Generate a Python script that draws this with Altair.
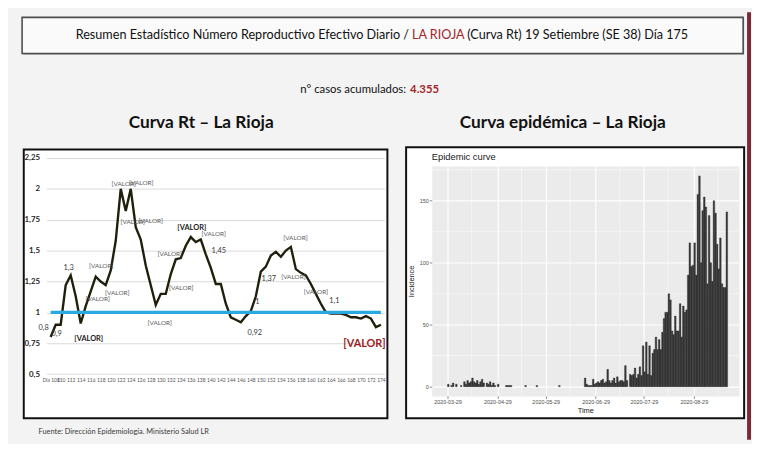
import altair as alt
import pandas as pd

# ---------------- data: Curva Rt ----------------
RT_DAYS = list(range(108, 175))
RT_VALUES = [0.80, 0.90, 0.90, 1.22, 1.30, 1.13, 0.91, 1.05, 1.17, 1.29,
             1.25, 1.22, 1.34, 1.58, 2.00, 1.82, 2.00, 1.69, 1.59, 1.38,
             1.22, 1.06, 1.15, 1.15, 1.31, 1.43, 1.44, 1.54, 1.61, 1.57,
             1.59, 1.47, 1.36, 1.23, 1.23, 1.07, 0.96, 0.94, 0.92, 0.97,
             1.01, 1.13, 1.33, 1.37, 1.46, 1.49, 1.45, 1.50, 1.53, 1.35,
             1.32, 1.30, 1.23, 1.15, 1.07, 1.00, 0.99, 0.99, 0.99, 0.98,
             0.96, 0.96, 0.95, 0.97, 0.95, 0.88, 0.90]
RT_REF = 1.0
RT_Y_TICKS = [0.5, 0.75, 1.0, 1.25, 1.5, 1.75, 2.0, 2.25]
RT_X_TICKS = list(range(108, 175, 2))
RT_X_DOMAIN = [107.15, 174.7]
RT_Y_DOMAIN = [0.5, 2.25]

NUM_LABEL_TEXT = ["0,8", "0,9", "1,3", "1,45", "0,92", "1", "1,37", "1,1"]
NUM_LABEL_DAY = [106.6, 109.2, 111.6, 141.6, 148.8, 149.3, 151.6, 164.7]
NUM_LABEL_VAL = [0.873, 0.827, 1.356, 1.497, 0.833, 1.085, 1.272, 1.093]

VALOR_TEXT = "[VALOR]"
VALOR_DAY = [117.4, 118.1, 121.3, 122.6, 126.1, 124.4, 128.0, 140.6,
             131.8, 134.1, 129.8, 156.9, 156.5, 161.0]
VALOR_VAL = [1.104, 1.378, 1.157, 2.043, 2.05, 1.731, 1.742, 1.636,
             1.471, 1.20, 0.917, 1.604, 1.285, 1.165]
VALOR_BOLD_DAY = [115.6, 136.2]
VALOR_BOLD_VAL = [0.785, 1.679]
VALOR_RED_DAY = [170.7]
VALOR_RED_VAL = [0.747]

# ---------------- data: Curva epidémica ----------------
EPI_START = "2020-03-29"
EPI_CASES = [2, 0, 1, 3, 0, 2, 0, 0, 1, 0,
             4, 2, 5, 3, 4, 7, 4, 3, 5, 2,
             4, 6, 3, 0, 3, 2, 4, 1, 3, 1,
             0, 2, 0, 0, 0, 0, 1, 1, 1, 1,
             0, 0, 0, 0, 0, 0, 0, 0, 1, 0,
             0, 0, 0, 0, 0, 1, 0, 0, 0, 0,
             0, 0, 0, 0, 0, 0, 0, 0, 0, 1,
             0, 0, 0, 0, 0, 0, 0, 0, 0, 0,
             0, 0, 0, 0, 0, 7, 2, 1, 1, 1,
             6, 2, 3, 4, 3, 5, 6, 3, 4, 14,
             5, 3, 5, 7, 3, 8, 4, 5, 5, 4,
             17, 5, 0, 10, 9, 10, 15, 7, 10, 16,
             9, 33, 12, 36, 10, 33, 9, 27, 30, 40,
             30, 38, 30, 44, 55, 60, 60, 75, 70, 45,
             42, 57, 45, 45, 67, 40, 65, 60, 62, 90,
             116, 97, 98, 116, 90, 155, 170, 100, 142, 153,
             145, 83, 138, 100, 85, 150, 140, 115, 95, 120,
             83, 80, 80, 141]
EPI_X_TICKS = ["2020-03-29", "2020-04-29", "2020-05-29", "2020-06-29", "2020-07-29", "2020-08-29"]
EPI_X_MINOR = ["2020-04-13", "2020-05-14", "2020-06-13", "2020-07-14", "2020-08-13", "2020-09-13"]
EPI_X_DOMAIN = ["2020-03-19", "2020-09-26"]
EPI_Y_TICKS = [0, 50, 100, 150]
EPI_Y_MINOR = [25, 75, 125, 175]
EPI_Y_DOMAIN = [-7.4, 178.1]

SLIDE_FONT = "Lato"
GG_FONT = "Liberation Sans"
BG = "#f3f3f3"
RED = "#a3262a"

one = alt.Data(values=[{"k": 0}])


def dt(s, hours=0):
    y, m, d = map(int, s.split("-"))
    return alt.DateTime(year=y, month=m, date=d, hours=hours, utc=True)


def spacer(w, h):
    return alt.Chart(one).mark_point(opacity=0).encode(
        x=alt.value(0), y=alt.value(0)).properties(width=w, height=h)


def deco_rect(x1, y1, x2, y2, fill, stroke="transparent", sw=0.0):
    return alt.Chart(one).mark_rect(fill=fill, stroke=stroke, strokeWidth=sw).encode(
        x=alt.value(x1), x2=alt.value(x2), y=alt.value(y1), y2=alt.value(y2))


def deco_text(txt, x, y, size, color="#111111", weight="normal", align="center", font=SLIDE_FONT):
    return alt.Chart(one).mark_text(text=txt, align=align, baseline="middle", fontSize=size,
                                    color=color, fontWeight=weight, font=font).encode(
        x=alt.value(x), y=alt.value(y))


# ---------------- slide decoration (coordinates relative to slide origin) ----------------
deco = alt.layer(
    deco_rect(0, 0, 744, 434, BG),
    deco_rect(746, 0, 750, 434, "#7a2a35"),
    deco_rect(11.3, 6.3, 743, 43, "#8a8a8a"),
    deco_rect(10.3, 5.3, 742, 42, "#fafafa", "#4d4d4d", 1.6),
    deco_text("Resumen Estadístico Número Reproductivo Efectivo Diario /", 403, 23.5, 12.8, align="right"),
    deco_text("LA RIOJA", 406, 23.5, 12.8, color=RED, align="left"),
    deco_text("(Curva Rt) 19 Setiembre (SE 38) Día 175", 462, 23.5, 12.8, align="left"),
    deco_text("n° casos acumulados:", 400, 79.5, 11.5, align="right"),
    deco_text("4.355", 404, 79.5, 11.5, color=RED, weight="bold", align="left"),
    deco_text("Curva Rt – La Rioja", 192, 113, 17.5, weight="bold"),
    deco_text("Curva epidémica – La Rioja", 559, 113, 17.5, weight="bold"),
    deco_rect(12, 139.3, 381, 412, "white", "#111111", 2),
    deco_rect(400, 137, 743, 412, "white", "#111111", 2),
    deco_text("Fuente: Dirección Epidemiología. Ministerio Salud LR", 27, 426, 7.5,
              color="#3a3a3a", align="left"),
).properties(width=744, height=147.7)

# ---------------- Curva Rt ----------------
RT_X = alt.X("day:Q", scale=alt.Scale(domain=RT_X_DOMAIN, nice=False, zero=False), title=None,
             axis=alt.Axis(values=RT_X_TICKS,
                           labelExpr="datum.value == 108 ? 'Dia 108' : datum.label",
                           grid=False, ticks=False, domain=False, labelFontSize=5,
                           labelColor="#555555", labelPadding=4, labelOverlap=False,
                           labelFlush=False, labelFont=SLIDE_FONT))
RT_Y = alt.Y("rt:Q", scale=alt.Scale(domain=RT_Y_DOMAIN, nice=False, zero=False), title=None,
             axis=alt.Axis(values=RT_Y_TICKS, format=".2~f",
                           labelExpr="replace(datum.label, '.', ',')",
                           grid=True, gridColor="#d9d9d9", gridWidth=1, ticks=False,
                           domain=False, labelFontSize=8, labelFontWeight="bold",
                           labelColor="#262626", labelPadding=7, labelFont=SLIDE_FONT))

rt_df = pd.DataFrame({"day": RT_DAYS, "rt": RT_VALUES})
ref_df = pd.DataFrame({"day": [RT_DAYS[0], RT_DAYS[-1]], "rt": [RT_REF, RT_REF]})

rt_line = alt.Chart(rt_df).mark_line(color="#1f1f0c", strokeWidth=2.4).encode(x=RT_X, y=RT_Y)
ref_line = alt.Chart(ref_df).mark_line(color="#29a9df", strokeWidth=3.5).encode(x=RT_X, y=RT_Y)


def label_layer(days, vals, texts, size, color, weight="normal"):
    df = pd.DataFrame({"day": days, "rt": vals, "t": texts})
    return alt.Chart(df).mark_text(fontSize=size, color=color, fontWeight=weight,
                                   font=SLIDE_FONT, baseline="middle").encode(
        x=RT_X, y=RT_Y, text="t:N")


rt_chart = alt.layer(
    rt_line,
    ref_line,
    label_layer(NUM_LABEL_DAY, NUM_LABEL_VAL, NUM_LABEL_TEXT, 7.5, "#3a3a3a"),
    label_layer(VALOR_DAY, VALOR_VAL, [VALOR_TEXT] * len(VALOR_DAY), 6.5, "#5a5a5a"),
    label_layer(VALOR_BOLD_DAY, VALOR_BOLD_VAL, [VALOR_TEXT] * len(VALOR_BOLD_DAY), 7.5, "#1a1a1a", "bold"),
    label_layer(VALOR_RED_DAY, VALOR_RED_VAL, [VALOR_TEXT] * len(VALOR_RED_DAY), 11, "#9b1c1c", "bold"),
).properties(width=343, height=219.3)

# ---------------- Curva epidémica ----------------
dates = pd.date_range(EPI_START, periods=len(EPI_CASES), freq="D")
epi_df = pd.DataFrame({
    "start": dates.strftime("%Y-%m-%d"),
    "end": (dates + pd.Timedelta(days=1)).strftime("%Y-%m-%d"),
    "cases": EPI_CASES,
})

axis_common = dict(labelFontSize=5.5, labelColor="#4d4d4d", tickColor="#333333", tickSize=2.5,
                   tickWidth=0.6, domain=False, grid=True, gridColor="white", gridWidth=1.1,
                   titleFontSize=7.5, titleFontWeight="normal", titleColor="#1a1a1a",
                   labelFont=GG_FONT, titleFont=GG_FONT)

EPI_X = alt.X("start:T",
              scale=alt.Scale(type="utc", domain=[dt(EPI_X_DOMAIN[0], 5), dt(EPI_X_DOMAIN[1])], nice=False),
              title="Time",
              axis=alt.Axis(values=[dt(s) for s in EPI_X_TICKS], format="%Y-%m-%d",
                            labelPadding=1.5, titlePadding=1, labelOverlap=False, **axis_common))
EPI_Y = alt.Y("cases:Q", scale=alt.Scale(domain=EPI_Y_DOMAIN, nice=False, zero=False),
              title="Incidence",
              axis=alt.Axis(values=EPI_Y_TICKS, labelPadding=1, titlePadding=4, **axis_common))

minor_x = alt.Chart(pd.DataFrame({"start": EPI_X_MINOR})).mark_rule(
    color="white", strokeWidth=0.5).encode(x=EPI_X)
minor_y = alt.Chart(pd.DataFrame({"cases": EPI_Y_MINOR})).mark_rule(
    color="white", strokeWidth=0.5).encode(y=EPI_Y)

bars = alt.Chart(epi_df).transform_filter("datum.cases > 0").mark_bar(
    color="#3a3a3a", stroke="#1f1f1f", strokeWidth=0.35).encode(
    x=EPI_X, x2="end:T", y=EPI_Y, y2=alt.datum(0))

epi_chart = alt.layer(minor_x, minor_y, bars).properties(
    width=311.7, height=233.4,
    view=alt.ViewBackground(fill="#ebebeb", stroke="transparent"),
    title=alt.TitleParams("Epidemic curve", anchor="start", frame="group", fontSize=9.5,
                          font=GG_FONT, fontWeight="normal", color="#1a1a1a", offset=4),
)

right_col = alt.vconcat(spacer(311.7, 7.6), epi_chart, spacing=0, bounds="flush")

row = alt.hconcat(spacer(35, 10), rt_chart, spacer(47.3, 10), right_col, spacing=0, bounds="flush")

chart = alt.vconcat(deco, row, spacing=0, bounds="flush").properties(
    padding=0, background=BG
).configure_view(stroke="transparent")

chart.save("out.html", embed_options={"renderer": "svg", "actions": False})
